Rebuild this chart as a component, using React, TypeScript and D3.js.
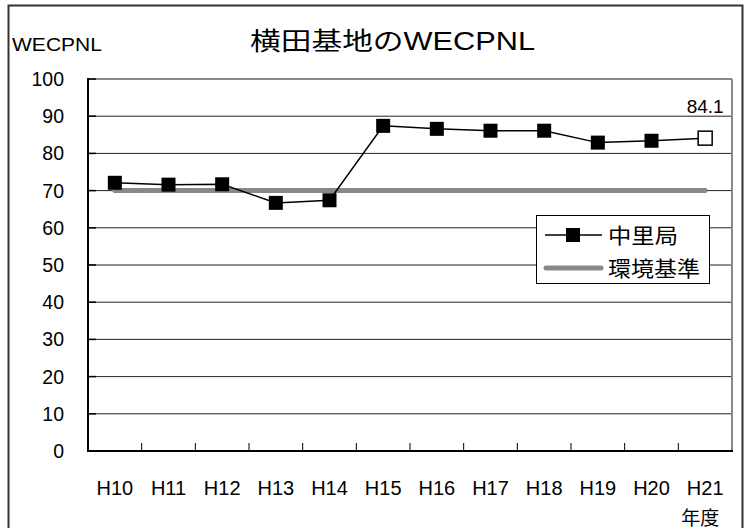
import React from "react";
import * as d3 from "d3";

const categories = ["H10", "H11", "H12", "H13", "H14", "H15", "H16", "H17", "H18", "H19", "H20", "H21"];
const nakazatoValues = [72.1, 71.6, 71.7, 66.7, 67.4, 87.4, 86.6, 86.1, 86.1, 82.9, 83.4, 84.1];
const standardValues = [70, 70, 70, 70, 70, 70, 70, 70, 70, 70, 70, 70];
const yTicks = [0, 10, 20, 30, 40, 50, 60, 70, 80, 90, 100];
const seriesNames = ["中里局", "環境基準"];
const titleText = "横田基地のWECPNL";
const yAxisTitle = "WECPNL";
const xAxisTitle = "年度";
const lastLabel = "84.1";

const FONT = "'Liberation Sans', Arial, 'Noto Sans CJK JP', sans-serif";

export default function App() {
  const W = 747, H = 528;
  const left = 88, right = 732, top = 79, bottom = 451;
  const x = d3.scaleBand<string>().domain(categories).range([left, right]).padding(0);
  const y = d3.scaleLinear().domain([0, 100]).range([bottom, top]);
  const cx = (c: string) => (x(c) as number) + x.bandwidth() / 2;

  const line = d3.line<number>().x((_, i) => cx(categories[i])).y((d) => y(d));
  const boundaries = categories.slice(1).map((c) => x(c) as number);
  const n = categories.length;
  const ms = 14;

  return (
    <svg width={W} height={H} style={{ position: "absolute", left: 0, top: 0, background: "#fff" }} fontFamily={FONT}>
      <rect x={0} y={0} width={W} height={H} fill="#fff" />
      {/* outer frame */}
      <rect x={8.5} y={5.5} width={734} height={540} fill="none" stroke="#333" strokeWidth={2} />

      {/* title */}
      <text x={250} y={50} fontSize={25} textLength={285} lengthAdjust="spacingAndGlyphs" fill="#000">{titleText}</text>
      <text x={12} y={51} fontSize={18.5} textLength={90} lengthAdjust="spacingAndGlyphs" fill="#000">{yAxisTitle}</text>

      {/* gridlines */}
      {yTicks.filter((t) => t > 0 && t < 100).map((t) => (
        <line key={t} x1={left} x2={right} y1={y(t)} y2={y(t)} stroke="#222" strokeWidth={1} />
      ))}
      {/* plot border top/right gray */}
      <line x1={left} x2={right} y1={y(100)} y2={y(100)} stroke="#888" strokeWidth={2} />
      <line x1={right} x2={right} y1={y(100)} y2={bottom} stroke="#888" strokeWidth={2} />

      {/* y ticks inward */}
      {yTicks.map((t) => (
        <line key={"yt" + t} x1={left} x2={left + 8} y1={y(t)} y2={y(t)} stroke="#000" strokeWidth={1.5} />
      ))}
      {/* x ticks inward */}
      {boundaries.map((b, i) => (
        <line key={"xt" + i} x1={b} x2={b} y1={bottom} y2={bottom - 8} stroke="#000" strokeWidth={1} />
      ))}
      {/* axes */}
      <line x1={left} x2={left} y1={top - 1} y2={bottom + 1} stroke="#000" strokeWidth={2} />
      <line x1={left - 1} x2={right + 1} y1={bottom} y2={bottom} stroke="#000" strokeWidth={2} />

      {/* y tick labels */}
      {yTicks.map((t) => (
        <text key={"yl" + t} x={64} y={y(t) + 7} fontSize={19.5} textAnchor="end" fill="#000">{t}</text>
      ))}
      {/* x labels */}
      {categories.map((c) => (
        <text key={"xl" + c} x={cx(c)} y={495} fontSize={20} textAnchor="middle" fill="#000">{c}</text>
      ))}
      <text x={cx(categories[n - 1]) - 5} y={525} fontSize={19} textAnchor="middle" fill="#000">{xAxisTitle}</text>

      {/* standard line */}
      <path d={line(standardValues) as string} fill="none" stroke="#888" strokeWidth={5} strokeLinecap="round" />
      {/* series line */}
      <path d={line(nakazatoValues) as string} fill="none" stroke="#000" strokeWidth={1.5} />
      {nakazatoValues.map((v, i) => (
        <rect
          key={"m" + i}
          x={cx(categories[i]) - ms / 2}
          y={y(v) - ms / 2}
          width={ms}
          height={ms}
          fill={i === n - 1 ? "#fff" : "#000"}
          stroke="#000"
          strokeWidth={i === n - 1 ? 1.5 : 0}
        />
      ))}
      <text x={cx(categories[n - 1])} y={y(nakazatoValues[n - 1]) - 25} fontSize={19} textAnchor="middle" fill="#000">{lastLabel}</text>

      {/* legend */}
      <rect x={536.5} y={215.5} width={173} height={68} fill="#fff" stroke="#000" strokeWidth={1} />
      <line x1={545} x2={602} y1={235} y2={235} stroke="#000" strokeWidth={1.5} />
      <rect x={573 - ms / 2} y={235 - ms / 2} width={ms} height={ms} fill="#000" />
      <text x={608} y={243} fontSize={21} textLength={70} lengthAdjust="spacingAndGlyphs" fill="#000">{seriesNames[0]}</text>
      <line x1={546} x2={601} y1={268} y2={268} stroke="#888" strokeWidth={5} strokeLinecap="round" />
      <text x={608} y={276} fontSize={21} textLength={92} lengthAdjust="spacingAndGlyphs" fill="#000">{seriesNames[1]}</text>
    </svg>
  );
}
